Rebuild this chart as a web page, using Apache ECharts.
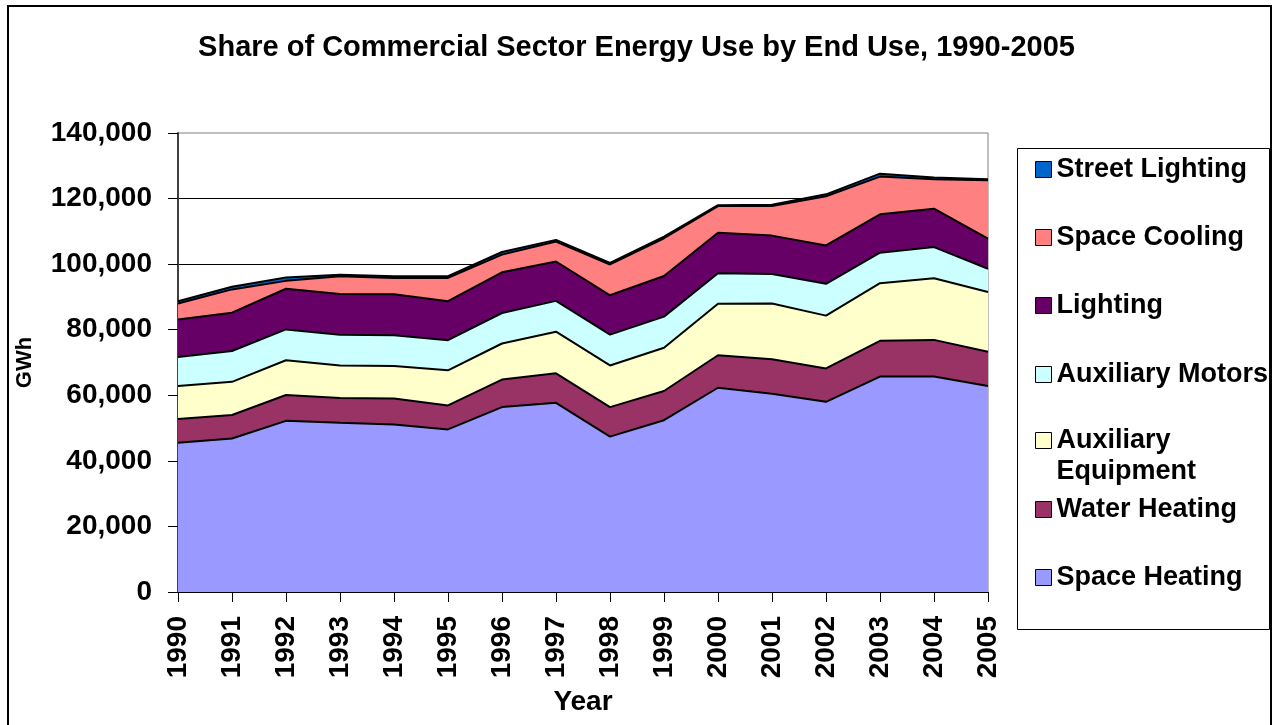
<!DOCTYPE html>
<html>
<head>
<meta charset="utf-8">
<title>Share of Commercial Sector Energy Use by End Use, 1990-2005</title>
<script src="https://cdn.jsdelivr.net/npm/echarts@6/dist/echarts.min.js"></script>
<style>
html,body{margin:0;padding:0;background:#fff;}
#main{width:1273px;height:725px;}
</style>
</head>
<body>
<div id="main"></div>
<script>
// years on the x axis
var years = ['1990','1991','1992','1993','1994','1995','1996','1997','1998','1999','2000','2001','2002','2003','2004','2005'];

// GWh by end use (stacked from the bottom up)
var spaceHeating    = [45500, 46800, 52200, 51600, 51100, 49600, 56400, 57700, 47400, 52400, 62300, 60500, 58000, 65700, 65700, 62800];
var waterHeating    = [7300, 7200, 7900, 7600, 7900, 7300, 8400, 9000, 9000, 8900, 9900, 10500, 10200, 10900, 11200, 10500];
var auxEquipment    = [10000, 10100, 10600, 9900, 9900, 10700, 11000, 12700, 12700, 13200, 15700, 17000, 16100, 17600, 18800, 18200];
var auxMotors       = [8900, 9400, 9400, 9400, 9400, 9200, 9300, 9400, 9400, 9500, 9300, 9000, 9700, 9300, 9500, 7100];
var lighting        = [11400, 11700, 12400, 12400, 12500, 11900, 12400, 12000, 12000, 12400, 12400, 11700, 11700, 11700, 11700, 9200];
var spaceCooling    = [4900, 7100, 2400, 5400, 5000, 7100, 5400, 6100, 9400, 11500, 8100, 9000, 15000, 11500, 9000, 17800];
var streetLighting  = [700, 800, 1000, 500, 500, 500, 800, 500, 500, 500, 300, 400, 600, 900, 500, 300];

var yTicks = [0, 20000, 40000, 60000, 80000, 100000, 120000, 140000];

var font = 'Arial, "Liberation Sans", sans-serif';

// name, data, fill colour, legend centre y
var layers = [
	['Space Heating', spaceHeating, '#9999FF', 577],
	['Water Heating', waterHeating, '#993366', 509],
	['Auxiliary Equipment', auxEquipment, '#FFFFCC', 441],
	['Auxiliary Motors', auxMotors, '#CCFFFF', 374],
	['Lighting', lighting, '#660066', 305],
	['Space Cooling', spaceCooling, '#FF8080', 237],
	['Street Lighting', streetLighting, '#0066CC', 169]
];

var _series = [];
var _legends = [];
for (var i = 0; i < layers.length; i++) {
	var l = layers[i];
	_series.push({
		name: l[0],
		type: 'line',
		stack: 'total',
		symbol: 'none',
		itemStyle: {color: l[2]},
		lineStyle: {color: '#000', width: 2},
		areaStyle: {color: l[2], opacity: 1},
		emphasis: {disabled: true},
		data: l[1]
	});
	// the two-line entry: blank first line so "Auxiliary" sits level with the icon
	var twoLine = l[0] == 'Auxiliary Equipment';
	_legends.push({
		data: [l[0]],
		left: 1035,
		top: twoLine ? l[3] - 47 : l[3] - 15,
		padding: 0,
		icon: 'rect',
		itemWidth: 16,
		itemHeight: 16,
		selectedMode: false,
		itemStyle: {color: l[2], borderColor: '#000', borderWidth: 1},
		formatter: twoLine ? ' \nAuxiliary\nEquipment' : '{name}',
		textStyle: {
			fontFamily: font, fontWeight: 'bold', fontSize: 27, color: '#000',
			lineHeight: 31
		}
	});
}

var myChart = echarts.init(document.getElementById('main'));
var option = {
	animation: false,
	backgroundColor: '#fff',
	title: {
		text: 'Share of Commercial Sector Energy Use by End Use, 1990-2005',
		left: 'center',
		top: 28,
		textStyle: {fontFamily: font, fontWeight: 'bold', fontSize: 29, color: '#000'}
	},
	legend: _legends,
	graphic: [
		{type: 'rect', shape: {x: 8, y: 6, width: 1263, height: 740}, style: {fill: null, stroke: '#000', lineWidth: 2}, silent: true},
		{type: 'rect', shape: {x: 1017.5, y: 148.5, width: 252, height: 481}, style: {fill: null, stroke: '#000', lineWidth: 1}, silent: true}
	],
	grid: {
		left: 178,
		right: 285,
		top: 133,
		bottom: 133,
		outerBoundsMode: 'none',
		show: true,
		borderColor: '#808080',
		borderWidth: 1
	},
	xAxis: {
		type: 'category',
		boundaryGap: false,
		data: years,
		name: 'Year',
		nameLocation: 'middle',
		nameGap: 96,
		nameTextStyle: {fontFamily: font, fontWeight: 'bold', fontSize: 28, color: '#000'},
		axisLine: {lineStyle: {color: '#000', width: 1}},
		axisTick: {show: true, alignWithLabel: true, length: 10, lineStyle: {color: '#000'}},
		axisLabel: {
			rotate: 90, margin: 24, interval: 0,
			fontFamily: font, fontWeight: 'bold', fontSize: 28, color: '#000'
		},
		splitLine: {show: false}
	},
	yAxis: {
		type: 'value',
		min: yTicks[0],
		max: yTicks[yTicks.length - 1],
		interval: yTicks[1] - yTicks[0],
		name: 'GWh',
		nameLocation: 'middle',
		nameGap: 142,
		nameTextStyle: {fontFamily: font, fontWeight: 'bold', fontSize: 22, color: '#000'},
		axisLine: {show: true, lineStyle: {color: '#404040', width: 2}},
		axisTick: {show: true, length: 10, lineStyle: {color: '#000'}},
		axisLabel: {
			margin: 26,
			fontFamily: font, fontWeight: 'bold', fontSize: 28, color: '#000',
			formatter: function (v) { return v.toLocaleString('en-US'); }
		},
		splitLine: {show: true, showMaxLine: false, lineStyle: {color: '#000', width: 1}}
	},
	series: _series
};
myChart.setOption(option);
</script>
</body>
</html>
